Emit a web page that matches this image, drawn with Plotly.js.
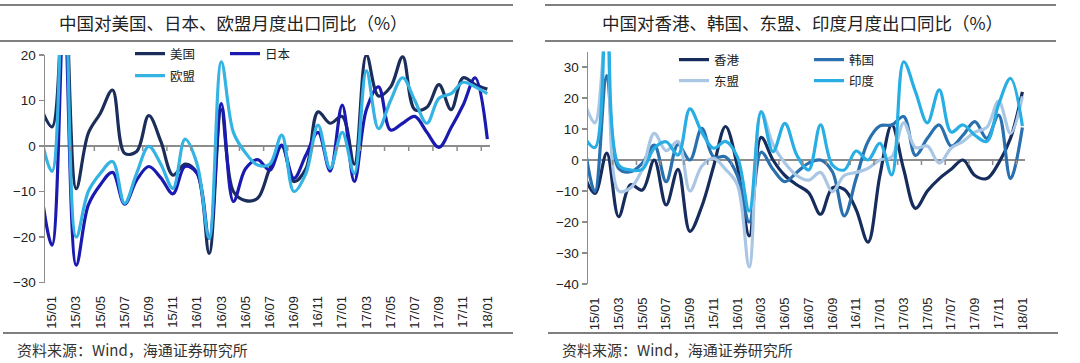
<!DOCTYPE html>
<html>
<head>
<meta charset="utf-8">
<script src="https://cdn.plot.ly/plotly-3.0.1.min.js"></script>
<style>html,body{margin:0;padding:0;background:#fff;}#chart{width:1080px;height:363px;}</style>
</head>
<body>
<div id="chart"></div>
<script>
// ---- categories (months) ----
const months = ['14/12',
 '15/01','15/02','15/03','15/04','15/05','15/06','15/07','15/08','15/09','15/10','15/11','15/12',
 '16/01','16/02','16/03','16/04','16/05','16/06','16/07','16/08','16/09','16/10','16/11','16/12',
 '17/01','17/02','17/03','17/04','17/05','17/06','17/07','17/08','17/09','17/10','17/11','17/12',
 '18/01'];
const tickLabels = ['15/01','15/03','15/05','15/07','15/09','15/11','16/01','16/03','16/05','16/07',
 '16/09','16/11','17/01','17/03','17/05','17/07','17/09','17/11','18/01'];

// ---- left panel series (%) ----
const usa = [9, 4.2, 38, -9.4, 2.8, 7.2, 12.3, -1.6, -1.2, 6.7, 1, -6.4, -4,
 -6, -23.6, 8, -10, -12, -11.5, -5, 0, -7.8, -5, 7.5, 5,
 6.5, -4, 20, 11, 13, 19.6, 8, 8.5, 13.5, 8, 15, 13.5, 12.5];
const japan = [-8, -21.8, 30, -26.2, -13, -8.5, -5.8, -12.8, -7.5, -4.5, -7, -10.5, -4.5,
 -6, -20.3, 9.3, -12.2, -5, -3, -5.3, 0.2, -7.1, -2, 3, -5.5,
 9, -7.8, 8, 13, 3.5, 5, 6.5, 3, -0.3, 4, 9, 15, 1.5];
const eu = [3, -5.6, 45, -20, -10, -6, -3.4, -12.6, -6, -0.1, -4, -9.3, 1.5,
 -4, -20.3, 18.5, 3, -1.5, -4.2, -4, 2.4, -10, -6, 4.6, -4.9,
 3, -6, 16.5, 3.8, 10, 15, 10, 5, 10.5, 11.5, 14, 13, 11.5];

// ---- right panel series (%) ----
const hk = [-4, -10.8, 2.2, -18.3, -8, -9.7, 0, -14.5, -3, -23, -15, -2, 10.8,
 -2, -24.5, 7.3, 0, -5, -8, -10.5, -17.5, -9, -9.5, -16, -26.5,
 -5, 11.3, -3, -15.6, -10, -6, -3, 0, -5, -6, -1, 7, 22];
const korea = [8, -10.2, 27.2, -2.7, -3.8, -1, 4.8, -7, 5, 0, 10.2, 1, 1,
 -5, -20, 2.5, -3, -7, -4, -1, 0, -3.8, -18, -6, 6,
 11, 11.3, 14, 1.5, 7, 11.3, 4.5, 8, 12.4, 7, 14.5, -6, 10.5];
const asean = [20, 12, 45, -10, -9, -3, 8.6, 3, 6, -10, -2, 0.5, -3,
 -8, -34.5, 15.6, 5, -1, -5, -6.5, -4, -10.2, -5, -4, -2.7,
 0, 1, 12, 4, 4.5, -1, 3.8, 6, 9, 10.5, 19, 8.6, 20.5];
const india = [8, 4, 60, -1.6, -3.2, -3, 3.8, 5.9, 1.6, 16.5, 9, 3.8, 6,
 1, -16.5, 15.5, 2.7, 11.8, 1.6, -3.2, 11.3, -1.6, -3.2, 2.9, 0,
 5.4, -4.8, 31.7, 22, 12, 22.6, 9, 11.3, 8, 6, 18, 26.3, 11];

const names = {usa:'美国', japan:'日本', eu:'欧盟', hk:'香港', korea:'韩国', asean:'东盟', india:'印度'};
const colors = {usa:'#1B2D5A', japan:'#1A1AB0', eu:'#35B3E3', hk:'#162C5C', korea:'#2A70AE', asean:'#A9C7E5', india:'#29AEE4'};

const W = 1080, H = 363;
const px = v => v / W, py = v => (H - v) / H;
const CJK = '"Noto Sans CJK SC", "Noto Sans", sans-serif';
const LAT = '"Liberation Sans", Arial, sans-serif';

function line(y, key, xa, ya, legend) {
  return {type:'scatter', mode:'lines', x: months, y: y, name: names[key],
    xaxis: xa, yaxis: ya, legend: legend,
    line: {color: colors[key], width: 3.2, shape: 'spline', smoothing: 1},
    hoverinfo: 'skip'};
}

const data = [
  line(usa, 'usa', 'x', 'y', 'legend'),
  line(japan, 'japan', 'x', 'y', 'legend'),
  line(eu, 'eu', 'x', 'y', 'legend2'),
  line(hk, 'hk', 'x2', 'y2', 'legend3'),
  line(korea, 'korea', 'x2', 'y2', 'legend3'),
  line(asean, 'asean', 'x2', 'y2', 'legend4'),
  line(india, 'india', 'x2', 'y2', 'legend4')
];

function xax(d0, d1, anchor) {
  return {domain:[px(d0), px(d1)], anchor: anchor, type:'category', categoryorder:'array', categoryarray: months,
    range:[0.42, 37.22], tickmode:'array', tickvals: tickLabels, ticktext: tickLabels, tickangle:-90,
    showgrid:false, zeroline:false, showline:false, ticks:'', ticklabelstandoff: 10,
    tickfont:{family: LAT, size: 13, color:'#222'}, fixedrange:true};
}
function yax(top, bottom, r, anchor) {
  return {domain:[py(bottom), py(top)], anchor: anchor, range: r, dtick: 10, tick0: 0,
    showline:true, linecolor:'#8c8c8c', linewidth:1.5, ticks:'outside', ticklen:5, tickcolor:'#8c8c8c', tickwidth:1.5,
    showgrid:false, zeroline:true, zerolinecolor:'#8c8c8c', zerolinewidth:1.5,
    tickfont:{family: LAT, size: 13.5, color:'#222'}, fixedrange:true};
}

// small tick marks on the zero line, at category boundaries every two months
const shapes = [];
tickLabels.forEach(t => {
  const i = months.indexOf(t) + 1.5;
  if (i < 37) {
    ['x','x2'].forEach((xr, k) => {
      shapes.push({type:'line', xref: xr, yref: k ? 'y2' : 'y', x0: i, x1: i,
        ysizemode:'pixel', yanchor: 0, y0: 0, y1: -5, line:{color:'#8c8c8c', width:1.5}});
    });
  }
});
// panel rules
const rules = [[0, 513, 5], [0, 513, 41], [3, 513, 333], [545, 1056, 5], [545, 1056, 41], [548, 1058, 333]];
rules.forEach(r => shapes.push({type:'line', xref:'paper', yref:'paper', x0: px(r[0]), x1: px(r[1]),
  y0: py(r[2]), y1: py(r[2]), line:{color:'#555', width:1.5}}));

const annotations = [
  {text:'中国对美国、日本、欧盟月度出口同比（%）', x: px(233), y: py(23), xref:'paper', yref:'paper',
   xanchor:'center', yanchor:'middle', showarrow:false, font:{family: CJK, size:17.5, color:'#222'}},
  {text:'中国对香港、韩国、东盟、印度月度出口同比（%）', x: px(802), y: py(23), xref:'paper', yref:'paper',
   xanchor:'center', yanchor:'middle', showarrow:false, font:{family: CJK, size:17.5, color:'#222'}},
  {text:'资料来源：Wind，海通证券研究所', x: px(15), y: py(349), xref:'paper', yref:'paper',
   xanchor:'left', yanchor:'middle', showarrow:false, font:{family: CJK, size:15, color:'#333'}},
  {text:'资料来源：Wind，海通证券研究所', x: px(560), y: py(349), xref:'paper', yref:'paper',
   xanchor:'left', yanchor:'middle', showarrow:false, font:{family: CJK, size:15, color:'#333'}}
];

function leg(x, yc, w) {
  return {orientation:'h', x: px(x), y: py(yc), xanchor:'left', yanchor:'middle',
    entrywidth: w, entrywidthmode:'pixels', bgcolor:'rgba(0,0,0,0)', borderwidth:0,
    font:{family: CJK, size:12.5, color:'#222'}, itemclick:false, itemdoubleclick:false};
}

const layout = {
  width: W, height: H, margin:{l:0, r:0, t:0, b:0},
  paper_bgcolor:'#fff', plot_bgcolor:'#fff', showlegend:true,
  xaxis: xax(45, 490, 'y'), yaxis: yax(55, 282.5, [-30, 20], 'x'),
  xaxis2: xax(588, 1025, 'y2'), yaxis2: yax(51.5, 284, [-40, 35], 'x2'),
  legend: leg(130, 54, 50), legend2: leg(130, 76, 50),
  legend3: leg(674, 60, 90), legend4: leg(674, 81, 90),
  shapes: shapes, annotations: annotations
};

Plotly.newPlot('chart', data, layout, {staticPlot:true, displayModeBar:false});
</script>
</body>
</html>
